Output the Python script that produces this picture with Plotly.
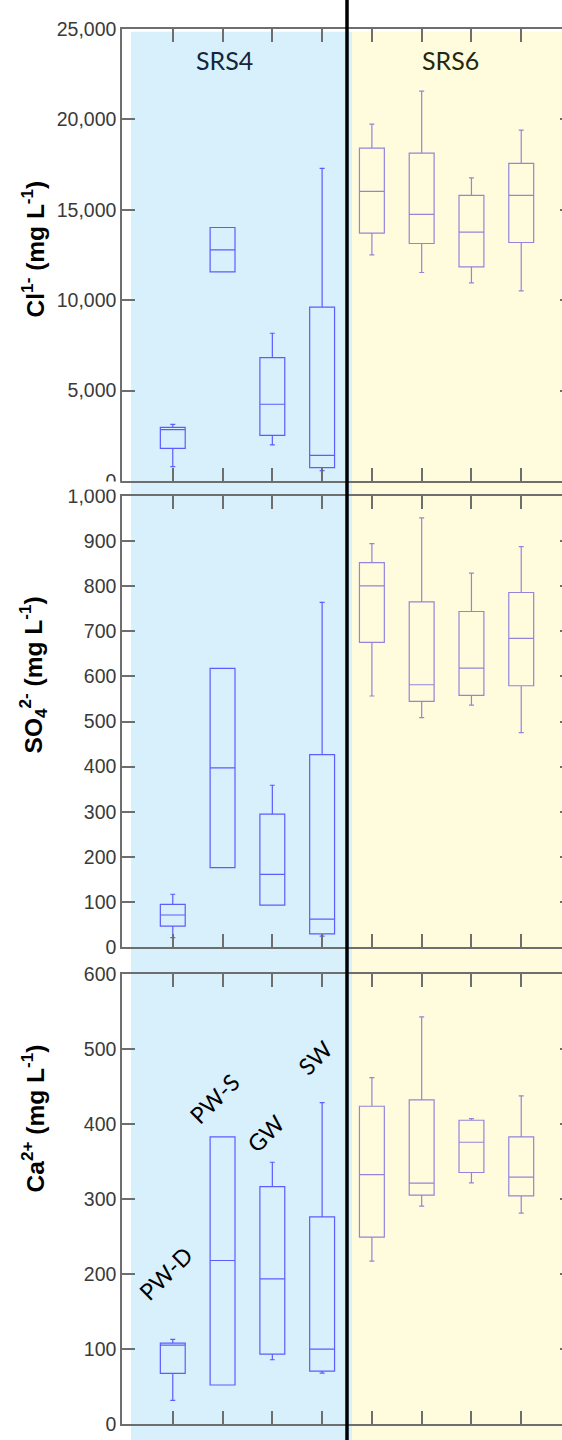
import plotly.graph_objects as go

# ---------------- data ----------------
positions_srs4 = [1, 2, 3, 4]
positions_srs6 = [5, 6, 7, 8]
group_labels = ["PW-D", "PW-S", "GW", "SW"]

# Cl- (mg/L)
cl_lo_4  = [793, 11568, 1993, 572]
cl_q1_4  = [1808, 11568, 2528, 738]
cl_med_4 = [2841, 12786, 4244, 1421]
cl_q3_4  = [2970, 14022, 6826, 9612]
cl_hi_4  = [3137, 14022, 8173, 17288]
cl_lo_6  = [12509, 11531, 10959, 10517]
cl_q1_6  = [13708, 13136, 11845, 13192]
cl_med_6 = [16015, 14742, 13764, 15793]
cl_q3_6  = [18413, 18136, 15793, 17564]
cl_hi_6  = [19742, 21568, 16771, 19409]

# SO4 2- (mg/L)
so_lo_4  = [21, 176, 93, 24]
so_q1_4  = [46.5, 176, 93, 29]
so_med_4 = [71, 397, 161, 62]
so_q3_4  = [94.5, 618, 294.5, 426.6]
so_hi_4  = [117, 618, 358.7, 764]
so_lo_6  = [556.5, 508.5, 536.5, 475.3]
so_q1_6  = [675.3, 544.6, 557.9, 579.3]
so_med_6 = [800.7, 581.5, 618.4, 684.1]
so_q3_6  = [852.4, 765.3, 743.9, 786]
so_hi_6  = [894.5, 951.3, 828.8, 887.8]

# Ca 2+ (mg/L)
ca_lo_4  = [31.5, 52, 85.7, 67.9]
ca_q1_4  = [67.5, 52, 93.3, 70.6]
ca_med_4 = [105.3, 218, 193.6, 99.9]
ca_q3_4  = [107.9, 382.8, 316.6, 276.2]
ca_hi_4  = [112.8, 382.8, 349, 428.6]
ca_lo_6  = [217.2, 290.4, 321.5, 281.1]
ca_q1_6  = [249.1, 305.1, 335.3, 304.2]
ca_med_6 = [332.6, 321.1, 375.7, 329.1]
ca_q3_6  = [423.7, 432.1, 405, 382.8]
ca_hi_6  = [461.9, 542.7, 407.2, 437.4]

site_labels = ["SRS4", "SRS6"]
y_titles = ["Cl<sup>1-</sup> (mg L<sup>-1</sup>)",
            "SO<sub>4</sub><sup>2-</sup> (mg L<sup>-1</sup>)",
            "Ca<sup>2+</sup> (mg L<sup>-1</sup>)"]

# ---------------- styling ----------------
C4 = "#5c5cff"
C6 = "#9484dc"
AX = "#6e6e6e"
TICKFONT = dict(family="Liberation Sans, Arial", size=19.5, color="#3a3a3a")
LABFONT = "Lato, Open Sans, sans-serif"

fig = go.Figure()

panels = [
    (cl_lo_4, cl_q1_4, cl_med_4, cl_q3_4, cl_hi_4, cl_lo_6, cl_q1_6, cl_med_6, cl_q3_6, cl_hi_6),
    (so_lo_4, so_q1_4, so_med_4, so_q3_4, so_hi_4, so_lo_6, so_q1_6, so_med_6, so_q3_6, so_hi_6),
    (ca_lo_4, ca_q1_4, ca_med_4, ca_q3_4, ca_hi_4, ca_lo_6, ca_q1_6, ca_med_6, ca_q3_6, ca_hi_6),
]
for i, p in enumerate(panels):
    xa = "x" if i == 0 else f"x{i+1}"
    ya = "y" if i == 0 else f"y{i+1}"
    for pos, lo, q1, med, q3, hi, col in [
        (positions_srs4, p[0], p[1], p[2], p[3], p[4], C4),
        (positions_srs6, p[5], p[6], p[7], p[8], p[9], C6),
    ]:
        fig.add_trace(go.Box(
            x=pos, lowerfence=lo, q1=q1, median=med, q3=q3, upperfence=hi,
            xaxis=xa, yaxis=ya, width=0.5, whiskerwidth=0.2,
            line=dict(color=col, width=1.2), fillcolor="rgba(0,0,0,0)",
            showlegend=False, boxpoints=False,
        ))

W = 575          # wider than the window: the right frame falls just outside, as in the reference
H = 1440
ML = 122
MT = 29
PB = 1424        # pixel row of the plot-area bottom
PH = PB - MT     # plot-area height in pixels
X0 = -0.02
XR = [X0, X0 + (W - ML) / 50.0]
domains = [[(PB - 481) / PH, 1.0], [(PB - 947) / PH, (PB - 496) / PH], [0.0, (PB - 974) / PH]]
yranges = [[0, 25000], [0, 1000], [0, 600]]
ydticks = [5000, 100, 100]

layout = dict(
    width=W, height=H,
    margin=dict(l=ML, r=0, t=MT, b=H - PB),
    paper_bgcolor="white", plot_bgcolor="rgba(0,0,0,0)",
    showlegend=False,
)
for i in range(3):
    xk = "xaxis" if i == 0 else f"xaxis{i+1}"
    yk = "yaxis" if i == 0 else f"yaxis{i+1}"
    ya = "y" if i == 0 else f"y{i+1}"
    xa = "x" if i == 0 else f"x{i+1}"
    layout[xk] = dict(domain=[0, 1], anchor=ya, range=XR, showgrid=False, zeroline=False,
                      showline=True, linecolor=AX, linewidth=1.5, mirror="ticks",
                      ticks="inside", ticklen=13, tickwidth=1.5, tickcolor=AX,
                      tickvals=positions_srs4 + positions_srs6, showticklabels=False)
    layout[yk] = dict(domain=domains[i], anchor=xa, range=yranges[i], dtick=ydticks[i],
                      tickformat=",", showgrid=False, zeroline=False,
                      showline=True, linecolor=AX, linewidth=1.5, mirror="ticks",
                      ticks="inside", ticklen=13, tickwidth=1.5, tickcolor=AX,
                      tickfont=TICKFONT)
fig.update_layout(**layout)

# background shading and divider
fig.add_shape(type="rect", xref="x", yref="paper", x0=0.16, x1=4.6, y0=-0.02, y1=0.998,
              fillcolor="#d8f0fb", line=dict(width=0), layer="below")
fig.add_shape(type="rect", xref="x", yref="paper", x0=4.6, x1=XR[1], y0=-0.02, y1=0.998,
              fillcolor="#fefcdc", line=dict(width=0), layer="below")
# white strip that clips the lowest tick label of the top panel
fig.add_shape(type="rect", xref="paper", yref="paper", x0=-0.16, x1=-0.004,
              y0=(PB - 489.5) / PH, y1=(PB - 481.5) / PH,
              fillcolor="white", line=dict(width=0), layer="above")
fig.add_shape(type="line", xref="x", yref="paper", x0=4.5, x1=4.5, y0=-0.03, y1=1.03,
              line=dict(color="black", width=3.5), layer="above")

# site labels
fig.add_annotation(x=2.03, y=(PB - 60) / PH, xref="x", yref="paper", text=site_labels[0],
                   showarrow=False, xanchor="center", yanchor="middle",
                   font=dict(family=LABFONT, size=25, color="#14263a"))
fig.add_annotation(x=6.58, y=(PB - 60) / PH, xref="x", yref="paper", text=site_labels[1],
                   showarrow=False, xanchor="center", yanchor="middle",
                   font=dict(family=LABFONT, size=25, color="#26260e"))

# group labels (rotated)
lab_x = [0.86, 1.82, 2.87, 3.85]
lab_y = [201, 434, 388, 488]
for t, lx, ly in zip(group_labels, lab_x, lab_y):
    fig.add_annotation(x=lx, y=ly, xref="x3", yref="y3", text=t, showarrow=False,
                       textangle=-45, xanchor="center", yanchor="middle",
                       font=dict(family=LABFONT, size=23, color="black"))

# y titles
ty = [(PB - 249) / PH, (PB - 675) / PH, (PB - 1118) / PH]
for t, yy in zip(y_titles, ty):
    fig.add_annotation(x=(32 - ML) / (W - ML), y=yy, xref="paper", yref="paper",
                       text="<b>" + t + "</b>",
                       showarrow=False, textangle=-90, xanchor="center", yanchor="middle",
                       font=dict(family="Liberation Sans, Arial", size=24.5, color="black"))

fig.write_html(
    "out.html",
    config={"displayModeBar": False},
    post_script="document.body.style.margin='0';document.body.style.overflow='hidden';",
)
